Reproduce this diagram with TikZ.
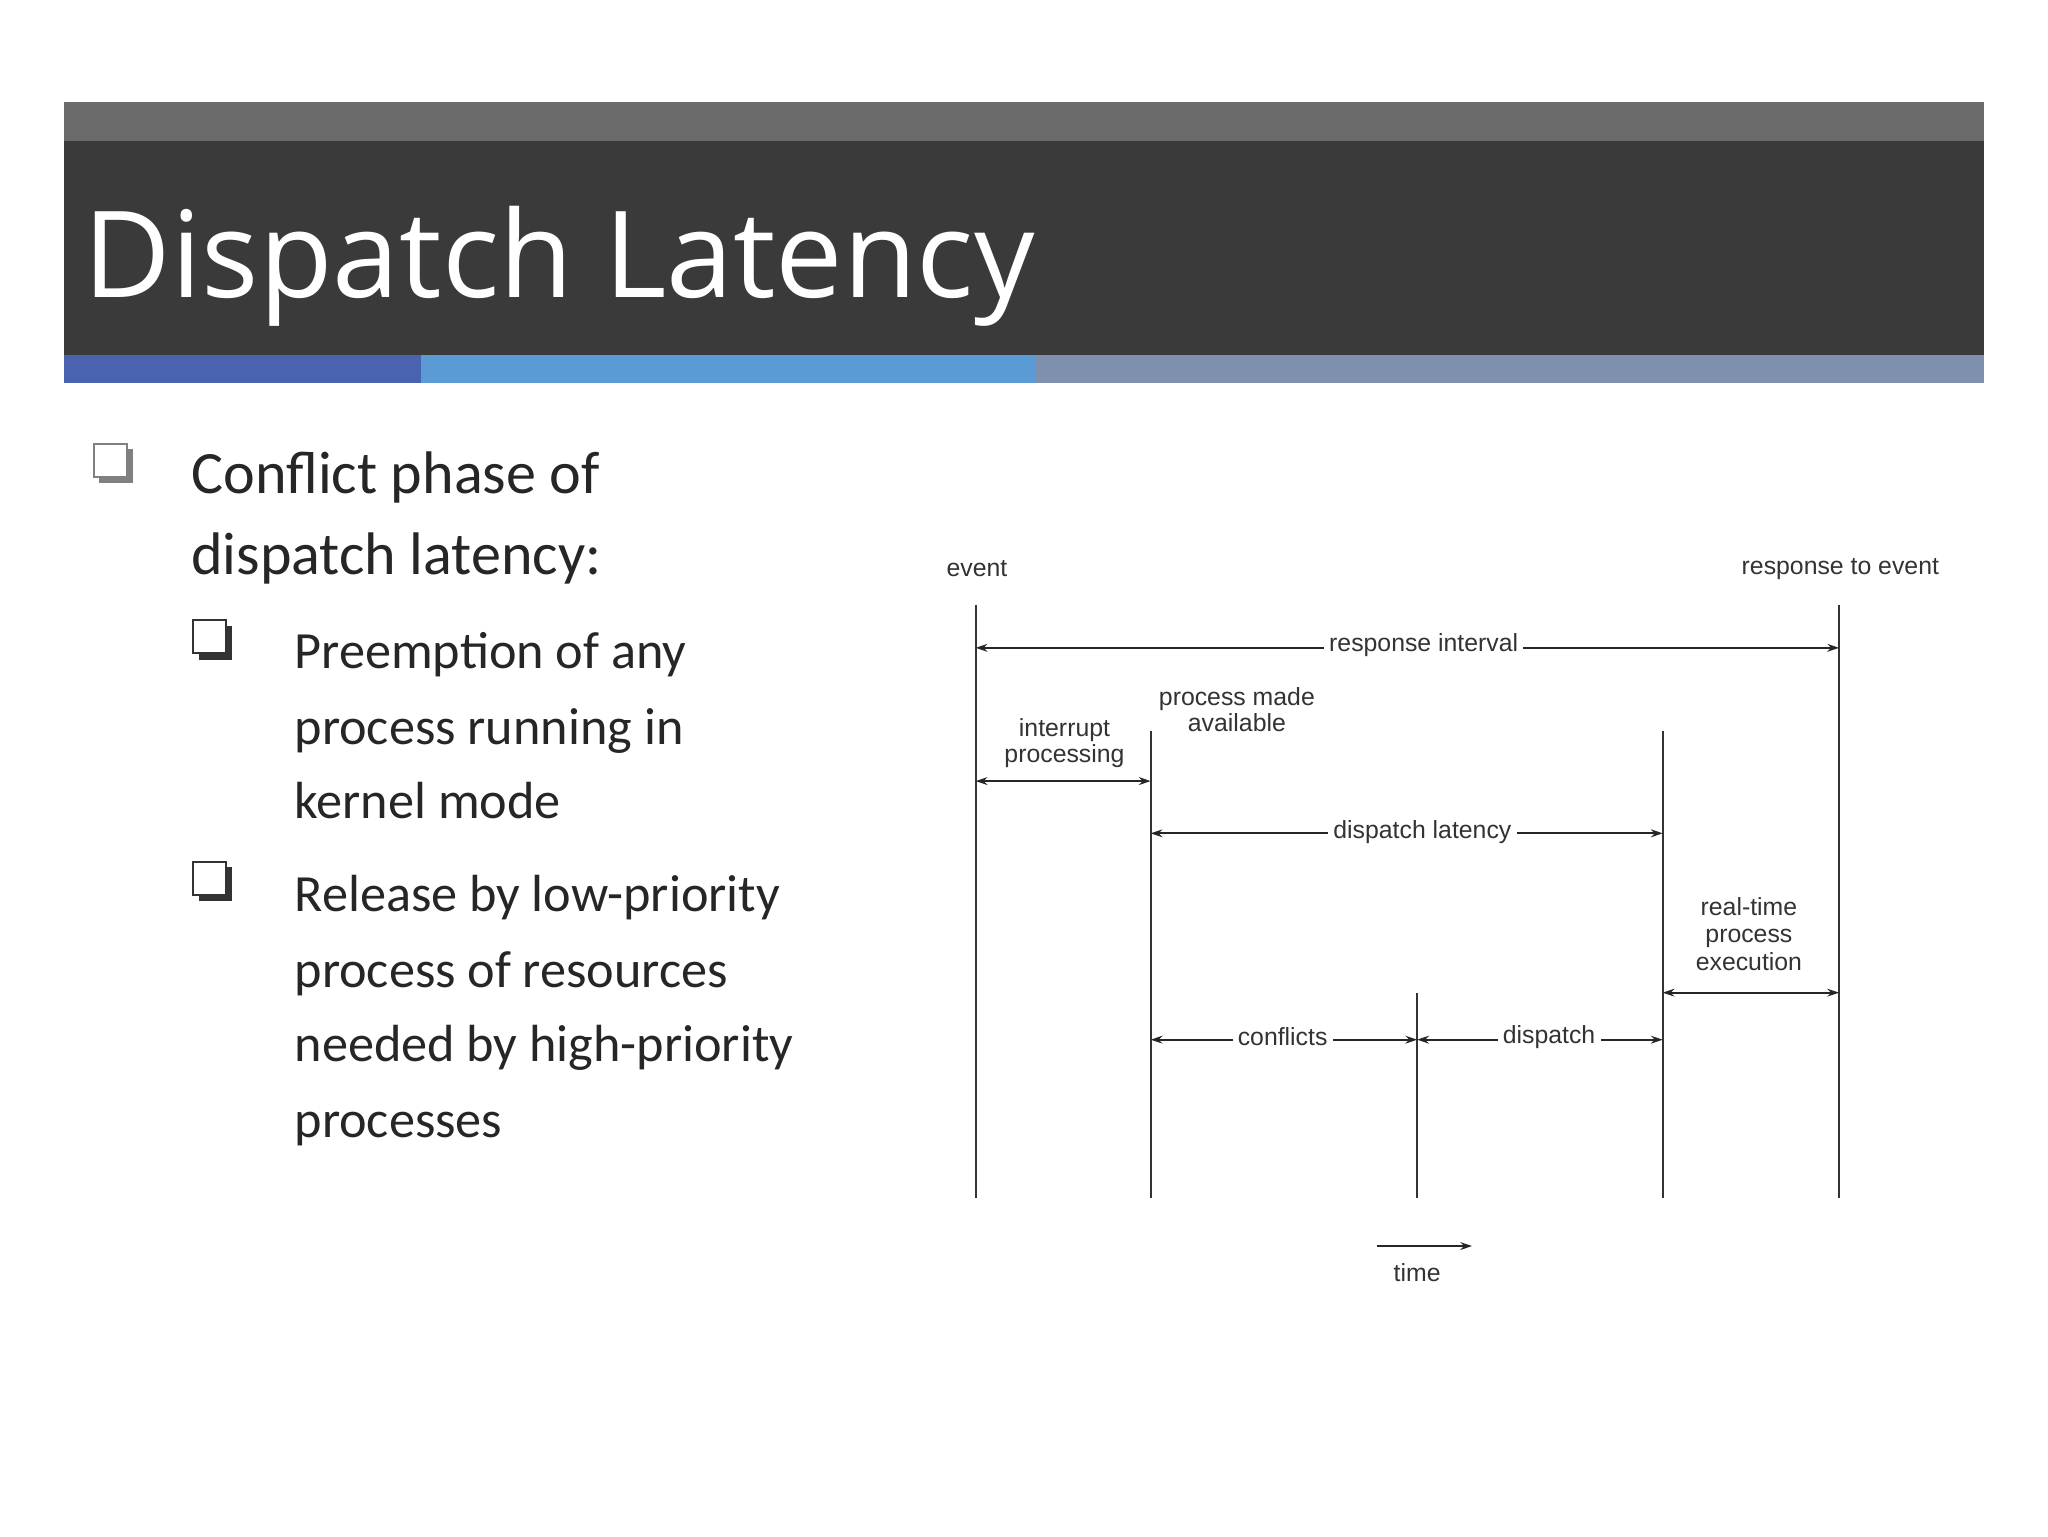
\documentclass[tikz,border=0pt]{standalone}
\usepackage{fontspec}
\setmainfont{Carlito}
\newfontfamily\titlefont{Open Sans}
\newfontfamily\diafont{Liberation Sans}
\usetikzlibrary{arrows.meta}
\begin{document}
\begin{tikzpicture}[x=1pt,y=-1pt,
  lvlone/.style={anchor=base west,font=\fontsize{46}{46}\selectfont,text=black!85},
  lvltwo/.style={anchor=base west,font=\fontsize{40}{40}\selectfont,text=black!85},
  lab/.style={font=\diafont\fontsize{19}{23}\selectfont,text=black!80,align=center,inner sep=3pt},
  arrlab/.style={lab,fill=white,inner sep=4pt},
  vline/.style={line width=1.6pt,black!80},
  dbl/.style={line width=1.4pt,black!85,{Stealth[length=9pt,width=6pt]}-{Stealth[length=9pt,width=6pt]}},
  one/.style={line width=1.4pt,black!85,-{Stealth[length=9pt,width=6pt]}}]
\useasboundingbox (0,0) rectangle (1568,1176);
\fill[white] (0,0) rectangle (1568,1176);
% header
\fill[fill={rgb,255:red,107;green,107;blue,107}] (49,78) rectangle (1519,108);
\fill[fill={rgb,255:red,58;green,58;blue,58}] (49,108) rectangle (1519,272);
\fill[fill={rgb,255:red,74;green,99;blue,176}] (49,272) rectangle (322,293);
\fill[fill={rgb,255:red,91;green,155;blue,213}] (322,272) rectangle (793,293);
\fill[fill={rgb,255:red,127;green,143;blue,174}] (793,272) rectangle (1519,293);
\node[anchor=base west,inner sep=0,text=white,font=\titlefont\fontsize{92}{92}\selectfont] (title) at (64,228) {Dispatch Latency};
% bullets
\foreach \x/\y/\c in {72/340/gray, 148/475/black!80, 148/660/black!80}{
  \fill[\c] (\x+4,\y+4) rectangle (\x+30,\y+30);
  \fill[white] (\x,\y) rectangle (\x+25,\y+25);
  \draw[\c,line width=1.6pt] (\x,\y) rectangle (\x+25,\y+25);
}
\node[lvlone] (a1) at (143,378) {Conflict phase of};
\node[lvlone] (a2) at (143,440) {dispatch latency:};
\node[lvltwo] (b1) at (222,512) {Preemption of any};
\node[lvltwo] (b2) at (222,570) {process running in};
\node[lvltwo] (b3) at (222,627) {kernel mode};
\node[lvltwo] (c1) at (222,698) {Release by low-priority};
\node[lvltwo] (c2) at (222,756) {process of resources};
\node[lvltwo] (c3) at (222,813) {needed by high-priority};
\node[lvltwo] (c4) at (222,871) {processes};
% diagram lines
\coordinate (l1t) at (747,463); \coordinate (l1b) at (747,917);
\coordinate (l2t) at (881,560); \coordinate (l2b) at (881,917);
\coordinate (l3t) at (1085,760); \coordinate (l3b) at (1085,917);
\coordinate (l4t) at (1273,560); \coordinate (l4b) at (1273,917);
\coordinate (l5t) at (1408,463); \coordinate (l5b) at (1408,917);
\foreach \i in {1,...,5}{\draw[vline] (l\i t) -- (l\i b);}
\node[lab] (ev) at (748,435) {event};
\node[lab] (rev) at (1409,436) {response to event};
% arrows
\coordinate (r1) at (747,496); \coordinate (r2) at (1408,496);
\draw[dbl] (r1) -- (r2);
\node[arrlab] (ri) at (1090,494) {response interval};
\coordinate (i1) at (747,598); \coordinate (i2) at (881,598);
\draw[dbl] (i1) -- (i2);
\node[lab] (ip) at (815,569) {interrupt\\[-3pt]processing};
\node[lab] (pma) at (947,543) {process made\\[-3pt]available};
\coordinate (d1) at (881,638); \coordinate (d2) at (1273,638);
\draw[dbl] (d1) -- (d2);
\node[arrlab] (dl) at (1089,637) {dispatch latency};
\coordinate (e1) at (1273,760); \coordinate (e2) at (1408,760);
\draw[dbl] (e1) -- (e2);
\node[lab] (rt) at (1339,715) {real-time\\[-2pt]process\\[-2pt]execution};
\coordinate (c1a) at (881,796); \coordinate (c1b) at (1085,796);
\draw[dbl] (c1a) -- (c1b);
\node[arrlab] (cf) at (982,794) {conflicts};
\coordinate (s1) at (1085,796); \coordinate (s2) at (1273,796);
\draw[dbl] (s1) -- (s2);
\node[arrlab] (dp) at (1186,794) {dispatch};
\coordinate (t1) at (1054,954); \coordinate (t2) at (1127,954);
\draw[one] (t1) -- (t2);
\node[lab] (tm) at (1085,974) {time};
\end{tikzpicture}
\end{document}
